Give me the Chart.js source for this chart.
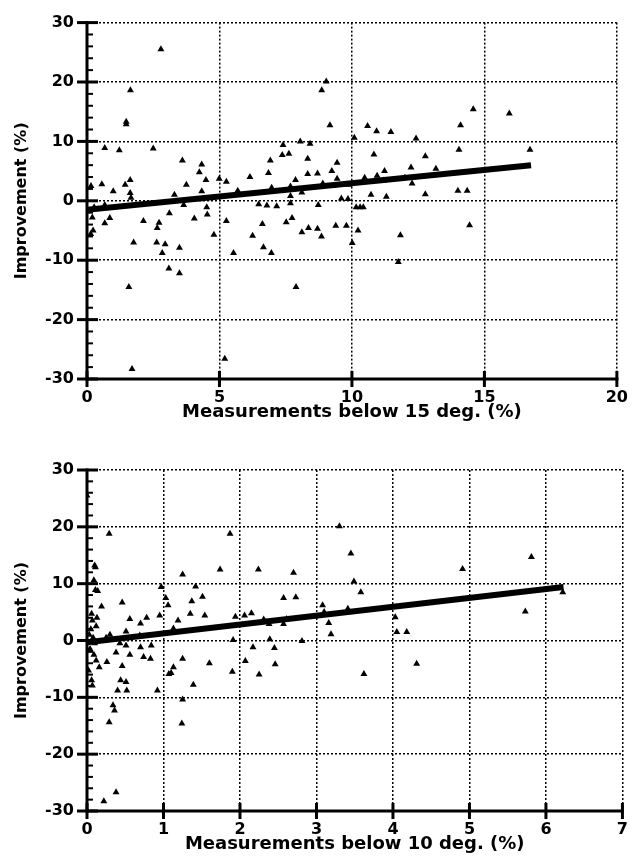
<!DOCTYPE html>
<html><head><meta charset="utf-8">
<script src="https://cdn.jsdelivr.net/npm/chart.js@4.4.1/dist/chart.umd.min.js"></script>
<style>
html,body{margin:0;padding:0;background:#fff;}
#wrap{position:relative;width:637px;height:859px;background:#fff;}
canvas{position:absolute;left:0;}
</style></head><body>
<div id="wrap">
<canvas id="c1" width="637" height="430" style="top:0px"></canvas>
<canvas id="c2" width="637" height="429" style="top:430px"></canvas>
</div>
<script>
// ---------- DATA: top chart (below 15 deg) ----------
const x15 = [1.64,1.48,1.48,0.67,1.22,2.50,2.79,3.60,4.33,4.24,4.49,4.99,5.26,6.15,6.92,6.85,7.40,7.37,7.62,7.87,
  0.15,0.56,0.99,1.44,1.63,1.63,1.66,3.30,3.75,4.33,5.69,6.97,7.68,0.27,0.67,3.65,4.52,4.54,6.48,6.79,
  7.16,7.68,0.20,0.86,0.67,0.23,2.13,2.72,2.65,3.11,4.05,5.26,4.79,6.62,6.25,7.52,7.74,1.76,2.63,2.95,
  2.84,3.49,5.53,6.66,6.96,3.09,3.49,1.58,1.70,5.20,7.89,0.14,8.05,8.42,8.33,8.33,8.70,8.86,9.03,9.17,
  10.59,10.93,11.47,12.42,10.09,9.44,9.24,9.44,10.48,10.83,11.23,10.95,12.23,12.77,13.17,12.27,14.10,14.04,14.58,15.94,
  16.72,14.00,14.35,12.77,11.30,10.72,9.89,8.11,7.68,8.73,9.60,9.85,10.16,10.31,10.43,8.11,8.36,8.70,8.85,9.39,
  9.79,10.23,10.01,11.83,14.44,11.75,8.90,9.30,11.20,12.00];
const y15 = [18.6,13.3,12.9,8.9,8.5,8.8,25.5,6.8,6.1,4.8,3.5,3.7,3.2,4.0,6.8,4.7,9.4,7.7,7.9,3.5,
  2.5,2.8,1.6,2.7,3.5,1.3,0.5,1.0,2.7,1.6,1.7,2.2,2.4,-1.1,-0.7,-0.7,-1.1,-2.3,-0.6,-0.8,
  -0.9,-0.4,-2.8,-2.9,-3.8,-5.0,-3.4,-3.7,-4.6,-2.1,-3.0,-3.4,-5.7,-3.9,-5.9,-3.6,-2.9,-7.0,-7.0,-7.3,
  -8.8,-7.9,-8.8,-7.8,-8.8,-11.4,-12.2,-14.5,-28.3,-26.6,-14.5,-5.6,10.0,9.6,7.1,4.5,4.6,18.6,20.1,12.7,
  12.6,11.7,11.6,10.5,10.6,6.4,5.0,3.7,3.9,7.8,5.0,4.2,5.6,7.5,5.4,2.9,12.7,8.6,15.4,14.7,
  8.6,1.7,1.7,1.1,0.7,1.0,2.7,1.4,0.8,-0.7,0.4,0.3,-1.1,-1.1,-1.1,-5.3,-4.6,-4.7,-6.0,-4.2,
  -4.2,-5.0,-7.1,-5.8,-4.1,-10.3,2.9,2.5,3.4,3.9];
const fit15X = [0, 16.76];
const fit15Y = [-1.5, 6.0];

// ---------- DATA: bottom chart (below 10 deg) ----------
const x10 = [0.29,1.87,0.10,0.11,0.09,0.11,0.14,0.19,0.46,0.97,1.03,1.06,1.25,1.42,1.37,1.51,1.74,2.24,0.06,0.07,
  0.56,0.78,0.70,0.95,1.19,1.35,1.54,1.13,0.51,0.69,1.94,2.06,2.15,1.91,2.17,2.07,1.90,1.60,1.39,1.25,
  1.13,1.07,0.92,1.25,1.24,0.83,0.74,0.56,0.84,0.70,0.51,0.38,0.46,0.26,0.44,0.51,0.40,0.52,0.34,0.36,
  0.29,0.12,0.16,0.06,0.07,0.02,0.22,0.38,1.10,2.25,2.46,2.45,2.39,2.81,3.30,3.45,2.70,4.91,3.49,3.58,
  2.57,2.73,3.08,2.31,2.38,2.57,2.61,3.10,3.16,3.19,3.41,4.03,4.05,4.18,4.31,3.62,5.81,5.73,6.22,0.05,
  0.03,0.08,0.10,0.04,0.09,0.12,0.13,0.00,0.25,0.30,0.43];
const y10 = [18.8,18.8,13.2,12.9,10.6,8.9,8.7,6.0,6.7,9.4,7.5,6.2,11.6,9.5,6.9,7.7,12.5,12.5,4.7,3.5,
  3.8,4.0,3.0,4.4,3.5,4.7,4.4,2.1,1.6,0.9,4.2,4.4,4.8,0.1,-1.2,-3.6,-5.5,-4.0,-7.8,-3.2,
  -4.7,-5.9,-8.8,-10.4,-14.6,-3.2,-2.9,-2.5,-0.9,-1.2,-0.9,-2.1,-4.5,-3.8,-7.0,-7.3,-8.8,-8.8,-11.4,-12.3,
  -14.4,-3.5,-4.7,-7.0,-7.9,-5.3,-28.3,-26.7,-5.7,-6.0,-4.2,-1.3,0.2,-0.1,20.1,15.3,11.9,12.6,10.4,8.5,
  7.5,7.6,6.2,3.7,2.9,2.9,3.8,5.0,3.1,1.1,5.6,4.1,1.5,1.5,-4.1,-5.9,14.7,5.1,8.5,2.0,
  1.0,0.5,-0.5,-1.5,-2.5,2.5,4.0,25.5,0.5,1.0,-0.5];
const fit10X = [0, 6.23];
const fit10Y = [-0.3, 9.4];

// ---------- axes / text ----------
const yTicks = [-30,-20,-10,0,10,20,30];
const xTicks15 = [0,5,10,15,20];
const xTicks10 = [0,1,2,3,4,5,6,7];
const yTitle = 'Improvement (%)';
const xTitle15 = 'Measurements below 15 deg. (%)';
const xTitle10 = 'Measurements below 10 deg. (%)';

const FONT = 'DejaVu Sans';

const axesPlugin = {
  id: 'axesPlugin',
  afterDatasetsDraw(chart, args, opts) {
    const {ctx, chartArea, scales} = chart;
    const {left, right, top, bottom} = chartArea;
    const xs = scales.x, ys = scales.y;
    const seg = (a,b,c,d) => { ctx.beginPath(); ctx.moveTo(a,b); ctx.lineTo(c,d); ctx.stroke(); };
    ctx.save();
    ctx.strokeStyle = '#000';
    ctx.setLineDash([]);
    // minor y ticks every 2 units
    ctx.lineWidth = 2;
    for (let v = ys.min; v <= ys.max; v += 2) {
      if (v % 10 !== 0) { const p = ys.getPixelForValue(v); seg(left, p, left + 6, p); }
    }
    ctx.lineWidth = 3;
    yTicks.forEach(v => { const p = ys.getPixelForValue(v); seg(left - 10, p, left + 11, p); });
    opts.xTicks.forEach(v => { const p = xs.getPixelForValue(v); seg(p, bottom - 8, p, bottom + 8); });
    seg(left, top - 1.5, left, bottom + 1.5);
    seg(left - 1.5, bottom, right + 1.5, bottom);
    ctx.restore();
  }
};

function makeChart(id, xsArr, ysArr, fx, fy, xMax, xStep, xTicksArr, xTitle, pad, xH, xTitlePad) {
  const pts = xsArr.map((v, i) => ({x: v, y: ysArr[i]}));
  const fit = fx.map((v, i) => ({x: v, y: fy[i]}));
  return new Chart(document.getElementById(id), {
    type: 'scatter',
    data: {
      datasets: [
        {type: 'line', data: fit, borderColor: '#000', borderWidth: 6, pointRadius: 0, fill: false, order: 2, borderCapStyle: 'butt'},
        {data: pts, pointStyle: 'triangle', pointRadius: 4, pointHoverRadius: 4,
         backgroundColor: '#000', borderColor: '#000', borderWidth: 0, order: 1}
      ]
    },
    options: {
      responsive: false, animation: false, devicePixelRatio: 1,
      layout: {padding: pad},
      plugins: {legend: {display: false}, tooltip: {enabled: false}, axesPlugin: {xTicks: xTicksArr}},
      scales: {
        x: {
          type: 'linear', min: 0, max: xMax,
          afterBuildTicks: s => { s.ticks = xTicksArr.map(v => ({value: v})); },
          afterFit: s => { s.height = xH; },
          grid: {color: '#000', lineWidth: 1.5, drawTicks: false},
          border: {display: false, dash: [2, 2]},
          ticks: {color: '#000', padding: 9, font: {family: FONT, weight: 'bold', size: 16}},
          title: {display: true, text: xTitle, color: '#000', padding: {top: 0, bottom: xTitlePad},
                  font: {family: FONT, weight: 'bold', size: 18}}
        },
        y: {
          type: 'linear', min: -30, max: 30,
          afterBuildTicks: s => { s.ticks = yTicks.map(v => ({value: v})); },
          afterFit: s => { s.width = 87; },
          grid: {color: '#000', lineWidth: 1.5, drawTicks: false},
          border: {display: false, dash: [2, 2]},
          ticks: {color: '#000', padding: 13, font: {family: FONT, weight: 'bold', size: 16}},
          title: {display: true, text: yTitle, color: '#000', padding: {top: 12, bottom: 0},
                  font: {family: FONT, weight: 'bold', size: 16}}
        }
      }
    },
    plugins: [axesPlugin]
  });
}

makeChart('c1', x15, y15, fit15X, fit15Y, 20, 5, xTicks15, xTitle15, {top: 20, right: 13, left: 0, bottom: 0}, 51, 7);
makeChart('c2', x10, y10, fit10X, fit10Y, 7, 1, xTicks10, xTitle10, {top: 40, right: 8, left: 0, bottom: 0}, 48, 4);
</script>
</body></html>
